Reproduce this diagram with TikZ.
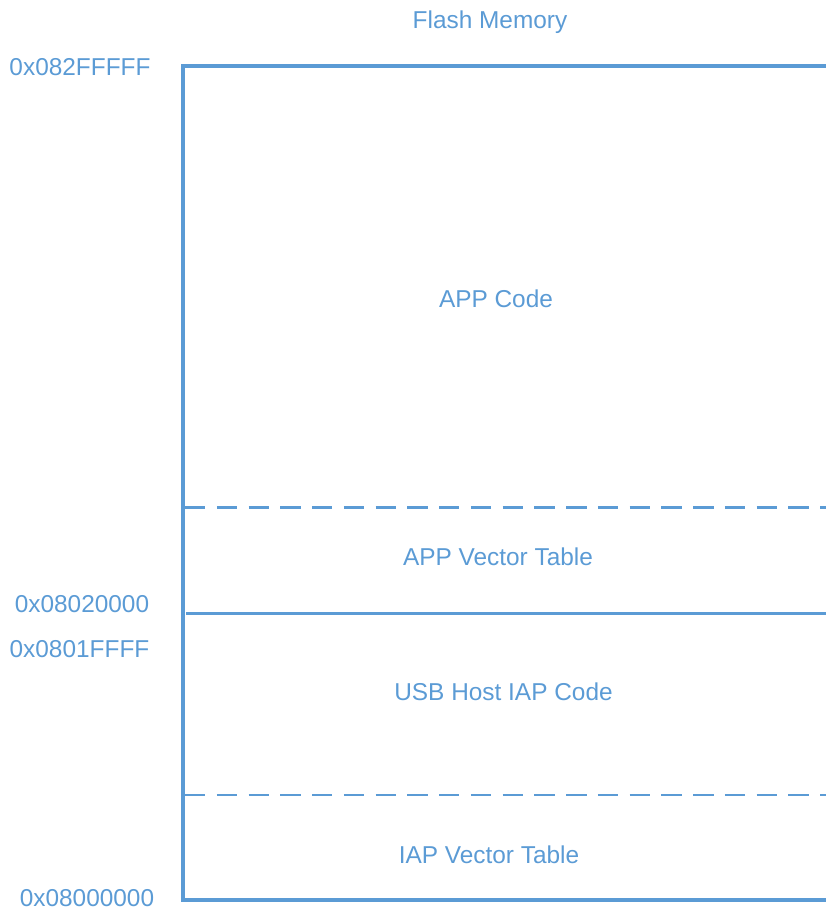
\documentclass[tikz,border=0pt]{standalone}
\usepackage{fontspec}
\setmainfont{Liberation Sans}
\definecolor{memblue}{HTML}{5B9BD5}
\begin{document}
\begin{tikzpicture}[x=1pt,y=-1pt,
  lbl/.style={text=memblue,inner sep=0pt,anchor=base,font=\fontsize{24.4}{29}\selectfont},
  frame/.style={draw=memblue,line width=3.8pt,line join=miter},
  dashsep/.style={draw=memblue,line width=2.3pt,dash pattern=on 20.4pt off 11.36pt},
  solidsep/.style={draw=memblue,line width=2.4pt}]
\useasboundingbox (0,0) rectangle (826,913);
% frame
\coordinate (tr) at (830,66);
\coordinate (tl) at (183,66);
\coordinate (bl) at (183,900);
\coordinate (br) at (830,900);
\draw[frame] (tr) -- (tl) -- (bl) -- (br);
% separators
\coordinate (d1l) at (185,507.5);
\coordinate (d1r) at (830,507.5);
\coordinate (sl) at (186,613.3);
\coordinate (sr) at (830,613.3);
\coordinate (d2l) at (185,795);
\coordinate (d2r) at (830,795);
\draw[dashsep] (d1l) -- (d1r);
\draw[solidsep] (sl) -- (sr);
\draw[dashsep] (d2l) -- (d2r);
% labels
\node[lbl] (title) at (490,28) {Flash Memory};
\node[lbl] (a1) at (80,75.5) {0x082FFFFF};
\node[lbl] (app) at (496,307) {APP Code};
\node[lbl] (appvt) at (498,565) {APP Vector Table};
\node[lbl] (a2) at (82,612) {0x08020000};
\node[lbl] (a3) at (79.5,657.5) {0x0801FFFF};
\node[lbl] (iap) at (503.5,700) {USB Host IAP Code};
\node[lbl] (iapvt) at (489,863) {IAP Vector Table};
\node[lbl] (a4) at (87,906) {0x08000000};
\end{tikzpicture}
\end{document}
